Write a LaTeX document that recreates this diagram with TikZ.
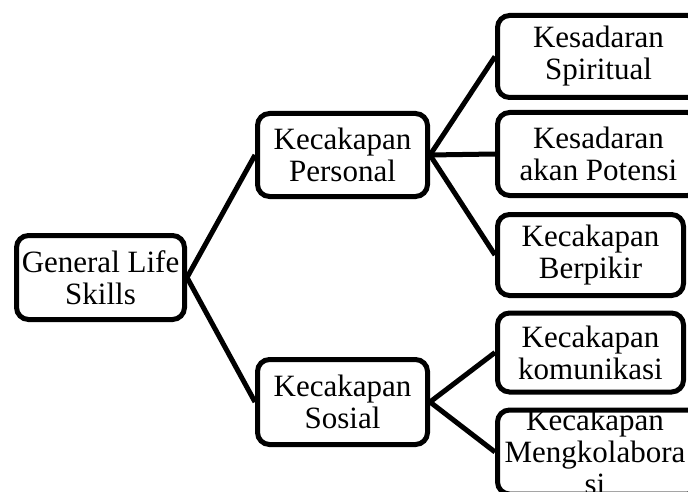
\documentclass[tikz,border=0pt]{standalone}
\usepackage{fontspec}
\setmainfont{Liberation Serif}

\begin{document}
\begin{tikzpicture}[
   x=1pt,y=-1pt,
   box/.style={draw,line width=5pt,rounded corners=12pt,minimum width=170pt,
               minimum height=83pt,align=center,inner sep=0pt,
               font=\fontsize{31}{32}\selectfont},
   wide/.style={box,minimum width=202pt},
   txt/.style={align=center,inner sep=0pt,font=\fontsize{31}{32}\selectfont},
   lnk/.style={line width=5pt}
 ]
  \useasboundingbox (0,0) rectangle (688,492);
  \clip (0,0) rectangle (688,492);
  \node[box,minimum width=168pt,minimum height=84pt] (gls) at (100.5,277.5) {General Life\\Skills};
  \node[box] (pers) at (342.5,155) {Kecakapan\\Personal};
  \node[box,minimum height=85pt] (sos) at (342.5,402) {Kecakapan\\Sosial};
  \node[wide,minimum height=82pt] (spir) at (598.5,56.5) {Kesadaran\\Spiritual};
  \node[wide] (pot) at (598.5,154) {Kesadaran\\akan Potensi};
  \node[box,minimum width=186pt,minimum height=81pt] (pikir) at (590.5,255) {Kecakapan\\Berpikir};
  \node[box,minimum width=186pt,minimum height=79pt] (kom) at (590.5,352.5) {Kecakapan\\komunikasi};
  \node[wide,minimum height=84pt] (kolab) at (598.5,452) {};
  \node[txt] (kolabtxt) at (595,452) {Kecakapan\\Mengkolabora\\si};
  \draw[lnk] (gls.east) -- (pers.west);
  \draw[lnk] (gls.east) -- (sos.west);
  \draw[lnk] (pers.east) -- (spir.west);
  \draw[lnk] (pers.east) -- (pot.west);
  \draw[lnk] (pers.east) -- (pikir.west);
  \draw[lnk] (sos.east) -- (kom.west);
  \draw[lnk] (sos.east) -- (kolab.west);
\end{tikzpicture}
\end{document}
